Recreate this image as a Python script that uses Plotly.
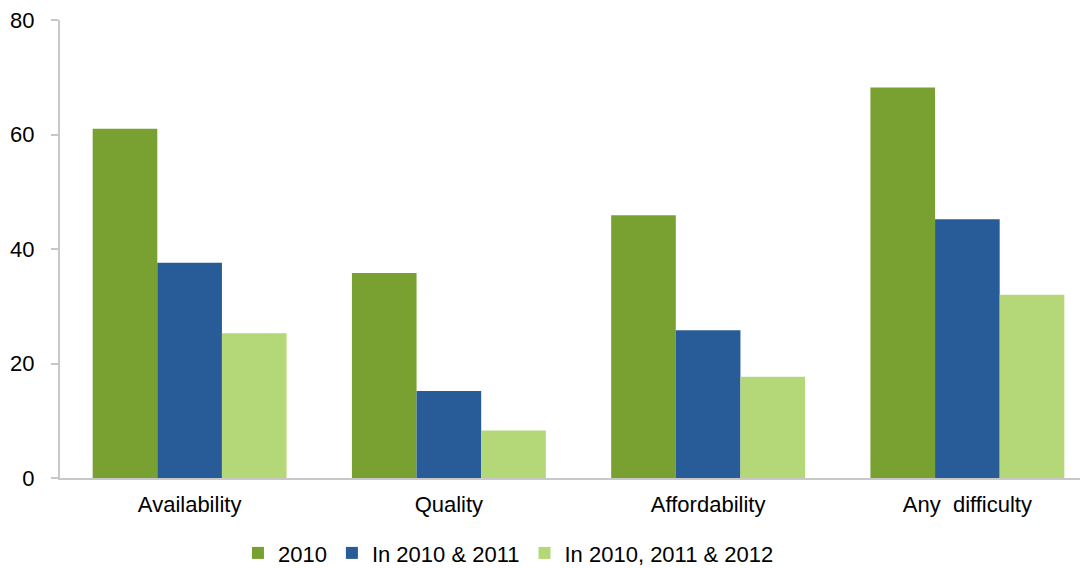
import plotly.graph_objects as go

categories = ["Availability", "Quality", "Affordability", "Any  difficulty"]
series_names = ["2010", "In 2010 & 2011", "In 2010, 2011 & 2012"]
v2010 = [61.0, 35.8, 45.9, 68.2]
v2011 = [37.6, 15.2, 25.8, 45.2]
v2012 = [25.3, 8.3, 17.7, 32.0]
colors = ["#78A132", "#285C99", "#B4D777"]
yticks = [0, 20, 40, 60, 80]

fig = go.Figure()
for name, vals, c in zip(series_names, [v2010, v2011, v2012], colors):
    fig.add_trace(go.Bar(x=categories, y=vals, name=name, marker=dict(color=c, line=dict(width=0))))

fig.update_layout(
    width=1090, height=568,
    margin=dict(l=52, r=1, t=12, b=98, autoexpand=False),
    barmode="group", bargap=0.252, bargroupgap=0,
    plot_bgcolor="white", paper_bgcolor="white",
    font=dict(family="Liberation Sans, Arial, sans-serif", size=22, color="#000000"),
    showlegend=True,
    legend=dict(orientation="h", x=0.1716, xanchor="left", y=-0.164, yanchor="middle",
                font=dict(size=22), itemwidth=30, traceorder="normal"),
    xaxis=dict(showline=True, linecolor="#C8C8C8", linewidth=2, ticks="outside", ticklen=6,
               tickcolor="rgba(0,0,0,0)", showgrid=False, tickfont=dict(size=22), automargin=False),
    yaxis=dict(range=[0, 80], tickvals=yticks, showline=True, linecolor="#C8C8C8", linewidth=2,
               ticks="outside", ticklen=7, tickcolor="#C8C8C8", tickwidth=1.5, showgrid=False,
               zeroline=False, tickfont=dict(size=22), ticklabelstandoff=12,
               ticklabeloverflow="allow", automargin=False),
)
fig.write_html("out.html")
